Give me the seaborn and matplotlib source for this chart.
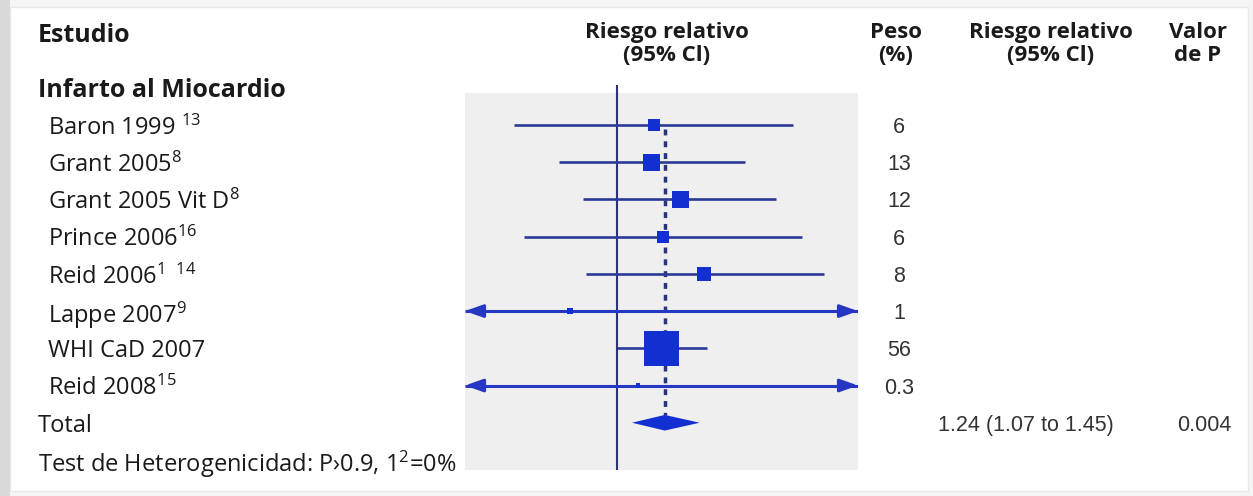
import numpy as np
import pandas as pd
import matplotlib
matplotlib.use("Agg")
import matplotlib.pyplot as plt
import matplotlib.transforms as mtrans
from matplotlib.patches import Rectangle
import seaborn as sns

# ---------------- data ----------------
studies = ["Baron 1999 $^{\\mathrm{13}}$", "Grant 2005$^{\\mathrm{8}}$",
           "Grant 2005 Vit D$^{\\mathrm{8}}$", "Prince 2006$^{\\mathrm{16}}$",
           "Reid 2006$^{\\mathrm{1\\ \\ 14}}$", "Lappe 2007$^{\\mathrm{9}}$",
           "WHI CaD 2007", "Reid 2008$^{\\mathrm{15}}$"]
rr = [1.18, 1.17, 1.33, 1.23, 1.48, 0.81, 1.22, 1.10]
ci_low = [0.63, 0.77, 0.86, 0.66, 0.87, 0.30, 1.00, 0.20]
ci_high = [2.20, 1.78, 2.04, 2.29, 2.53, 4.00, 1.50, 5.00]
weights = [6, 13, 12, 6, 8, 1, 56, 0.3]
weight_labels = ["6", "13", "12", "6", "8", "1", "56", "0.3"]
group_label = "Infarto al Miocardio"
total_label = "Total"
total_rr, total_low, total_high = 1.24, 1.07, 1.45
total_text = "1.24 (1.07 to 1.45)"
total_p = "0.004"
het_text = "Test de Heterogenicidad: P\u203a0.9, 1$^{\\mathrm{2}}$=0%"

df = pd.DataFrame({"study": studies, "rr": rr, "lo": ci_low, "hi": ci_high,
                   "w": weights, "row": np.arange(1, len(studies) + 1)})
total_row = len(studies) + 1
het_row = len(studies) + 2

# ---------------- style ----------------
sns.set_theme(style="white")
plt.rcParams["font.family"] = ["Open Sans", "DejaVu Sans"]
plt.rcParams["mathtext.fontset"] = "custom"
plt.rcParams["mathtext.rm"] = "Open Sans"
plt.rcParams["mathtext.it"] = "Open Sans:italic"
plt.rcParams["mathtext.bf"] = "Open Sans:bold"

W, H = 1253, 496
fig = plt.figure(figsize=(W / 100, H / 100), dpi=100)
fig.patch.set_facecolor("#f5f5f5")

# background / card axes in pixel units
bg = fig.add_axes([0, 0, 1, 1], zorder=0)
bg.set_xlim(0, W)
bg.set_ylim(H, 0)
bg.axis("off")
bg.add_patch(Rectangle((0, 0), 10, H, color="#d9d9d9", lw=0))
bg.add_patch(Rectangle((10, 7), 1238, 484, facecolor="white", edgecolor="#e8e8e8", lw=1))

# forest axes
px_l, px_r, px_t, px_b = 465, 858, 93, 470
ax = fig.add_axes([px_l / W, 1 - px_b / H, (px_r - px_l) / W, (px_b - px_t) / H], zorder=2)
ax.set_facecolor("#efefef")
ax.set_xscale("log")
ax.set_xlim(0.506, 2.95)
ax.set_ylim(10.27, 0.14)
for s in ax.spines.values():
    s.set_visible(False)
ax.set_xticks([])
ax.set_yticks([])
ax.xaxis.set_minor_locator(matplotlib.ticker.NullLocator())

line_col = "#2b3a96"
arrow_col = "#2637c4"
sq_col = "#1230d2"
ref_col = "#2a3478"

# reference line at 1
ax.vlines(1.0, -0.07, 10.27, color=ref_col, lw=1.5, zorder=3, clip_on=False)
# pooled estimate dotted line
ax.vlines(total_rr, 1.1, total_row - 0.2, color=ref_col, lw=2.5,
          linestyles=(0, (1.7, 1.7)), zorder=3)

# CI lines
xmin, xmax = ax.get_xlim()
off = (df["lo"] < xmin) | (df["hi"] > xmax)
ax.hlines(df.loc[~off, "row"], df.loc[~off, "lo"], df.loc[~off, "hi"],
          color=line_col, lw=1.9, zorder=4)
ax.hlines(df.loc[off, "row"], np.clip(df.loc[off, "lo"], xmin, xmax),
          np.clip(df.loc[off, "hi"], xmin, xmax), color=arrow_col, lw=2.2, zorder=4)
aprops = dict(arrowstyle="-|>,head_length=0.9,head_width=0.32",
              color=arrow_col, lw=2.2, shrinkA=0, shrinkB=0)
for _, r in df.iterrows():
    if r["hi"] > xmax:
        ax.annotate("", xy=(xmax, r["row"]), xytext=(xmax * 0.93, r["row"]),
                    arrowprops=aprops, zorder=4)
    if r["lo"] < xmin:
        ax.annotate("", xy=(xmin, r["row"]), xytext=(xmin / 0.93, r["row"]),
                    arrowprops=aprops, zorder=4)

# squares, area proportional to weight
sns.scatterplot(data=df, x="rr", y="row", size="w", sizes=(6, 640), size_norm=(0, 56),
                marker="s", color=sq_col, edgecolor="none", legend=False, ax=ax, zorder=5)
ax.set_xlabel("")
ax.set_ylabel("")
ax.set_xlim(xmin, xmax)
ax.set_ylim(10.27, 0.14)

# diamond for total
dh = 0.21
ax.fill([total_low, total_rr, total_high, total_rr],
        [total_row, total_row - dh, total_row, total_row + dh],
        color=sq_col, lw=0, zorder=5)

# ---------------- text ----------------
tr = mtrans.blended_transform_factory(bg.transData, ax.transData)
txt_col = "#1a1a1a"
val_col = "#333333"
hdr = dict(fontsize=16, fontweight="bold", color=txt_col, va="baseline")
vfont = ["Liberation Sans", "DejaVu Sans"]

bg.text(38, 42.5, "Estudio", ha="left", fontsize=18, fontweight="bold",
        color=txt_col, va="baseline")
for xc, l1, l2 in [(667, "Riesgo relativo", "(95% Cl)"), (896, "Peso", "(%)"),
                   (1051, "Riesgo relativo", "(95% Cl)"), (1198, "Valor", "de P")]:
    bg.text(xc, 38, l1, ha="center", **hdr)
    bg.text(xc, 61, l2, ha="center", **hdr)

bg.text(38, 0, group_label, transform=tr, ha="left", va="center_baseline",
        fontsize=18, fontweight="bold", color=txt_col)
for _, r in df.iterrows():
    bg.text(48, r["row"], r["study"], transform=tr, ha="left", va="center_baseline",
            fontsize=17, color=txt_col)
for lab, row in zip(weight_labels, df["row"]):
    bg.text(899, row, lab, transform=tr, ha="center", va="center_baseline",
            fontsize=15.5, color=val_col, family=vfont)
bg.text(38, total_row, total_label, transform=tr, ha="left", va="center_baseline",
        fontsize=17, color=txt_col)
bg.text(938, total_row, total_text, transform=tr, ha="left", va="center_baseline",
        fontsize=15.5, color=val_col, family=vfont)
bg.text(1232, total_row, total_p, transform=tr, ha="right", va="center_baseline",
        fontsize=15.5, color=val_col, family=vfont)
bg.text(38, het_row, het_text, transform=tr, ha="left", va="center_baseline",
        fontsize=17, color=txt_col)

fig.savefig("out.png", dpi=100, facecolor=fig.get_facecolor())
